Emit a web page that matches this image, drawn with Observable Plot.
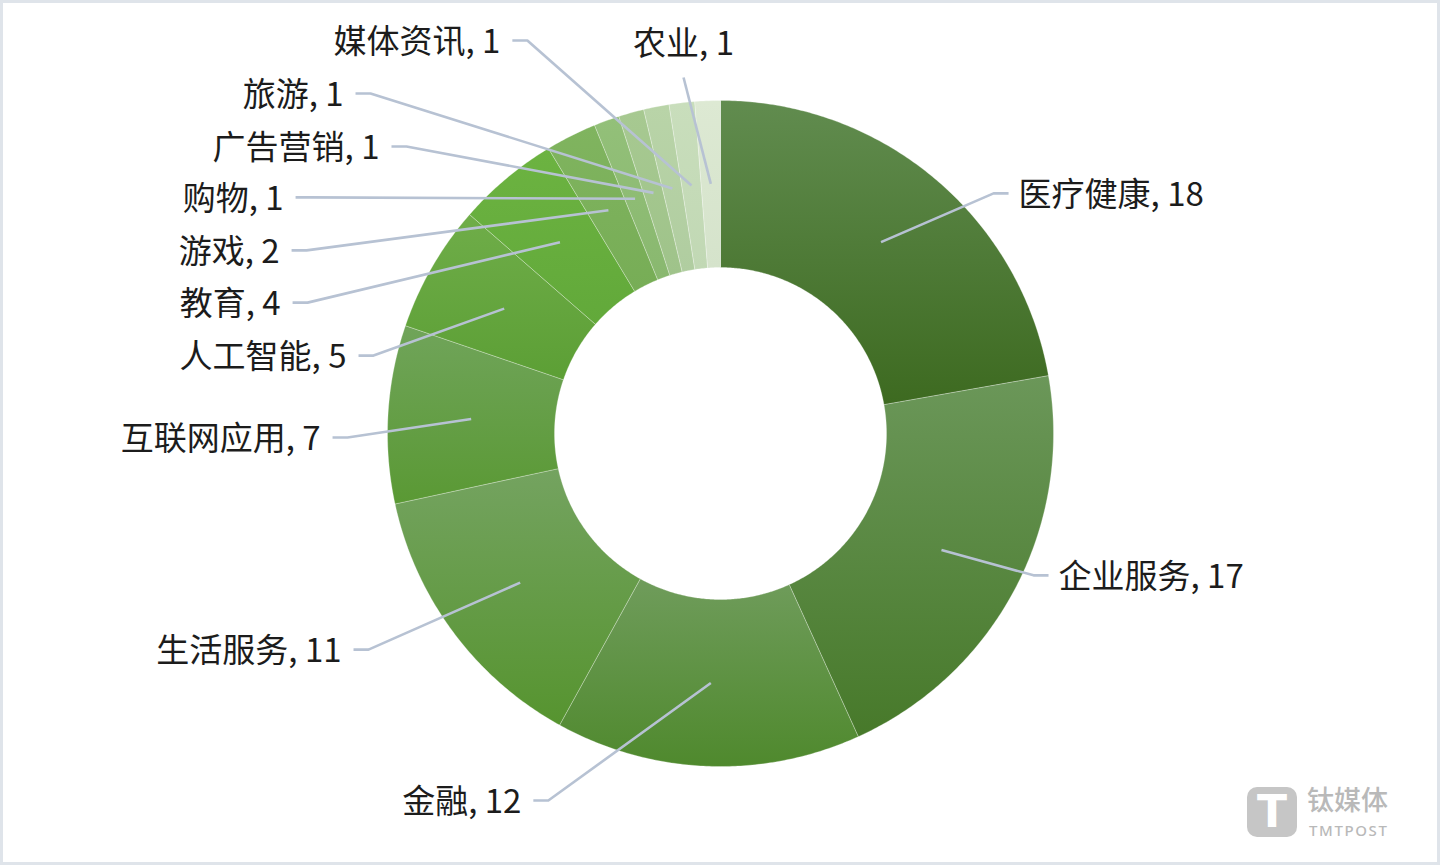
<!DOCTYPE html>
<html>
<head>
<meta charset="utf-8">
<script src="https://cdn.jsdelivr.net/npm/d3@7"></script>
<script src="https://cdn.jsdelivr.net/npm/@observablehq/plot@0.6"></script>
<style>
  html, body { margin: 0; padding: 0; background: #ffffff; }
  #wrap { position: relative; width: 1440px; height: 865px; overflow: hidden; background: #fff; }
  #chart svg { display: block; }
  #frame { position: absolute; left: 0; top: 0; width: 1440px; height: 865px; box-sizing: border-box;
           border: 3px solid #dfe4ea; pointer-events: none; }
  #logo { position: absolute; left: 1247px; top: 787px; width: 50px; height: 50px; border-radius: 10px;
          background: #c6c6c6; color: #fff; font: bold 44px 'DejaVu Sans', sans-serif; line-height: 50px;
          text-align: center; }
  #logo-cn { position: absolute; left: 1307px; top: 785px; font: 500 27px 'Noto Sans CJK SC', sans-serif;
             color: #b9b9b9; line-height: 28px; }
  #logo-en { position: absolute; left: 1309px; top: 824px; font: 500 15px 'Noto Sans', sans-serif;
             color: #b9b9b9; line-height: 13px; letter-spacing: 1.6px; }
</style>
</head>
<body>
<div id="wrap">
  <div id="chart"></div>
  <div id="logo">T</div>
  <div id="logo-cn">钛媒体</div>
  <div id="logo-en">TMTPOST</div>
  <div id="frame"></div>
</div>
<script>
// ---- data ----
const categories = ["医疗健康", "企业服务", "金融", "生活服务", "互联网应用", "人工智能", "教育",
                    "游戏", "购物", "广告营销", "旅游", "媒体资讯", "农业"];
const values = [18, 17, 12, 11, 7, 5, 4, 2, 1, 1, 1, 1, 1];

// ---- styles (gradient top / bottom per slice) ----
const colorTop = ["#618c4f", "#6b9759", "#6f9c5b", "#74a360", "#70a45a", "#6fad49", "#6cb341",
                  "#80b45f", "#93c079", "#a7c991", "#b9d4a8", "#c9debc", "#dde9d3"];
const colorBottom = ["#3d6a20", "#47792a", "#4f892d", "#56942f", "#5a9934", "#5c9f35", "#62a93a",
                     "#77ad56", "#89b86f", "#9fc38a", "#b0cda0", "#c1d8b4", "#d5e3cb"];

// ---- layout: label elbow points (in units of the outer radius, y up) ----
const labelElbow = [[0.820, 0.721], [0.940, -0.426], [-0.517, -1.102], [-1.057, -0.649],
                    [-1.120, -0.012], [-1.042, 0.234], [-1.240, 0.393], [-1.243, 0.550],
                    [-1.231, 0.709], [-0.943, 0.862], [-1.051, 1.021], [-0.580, 1.180],
                    [-0.111, 1.069]];
const labelSide = ["right", "right", "left", "left", "left", "left", "left", "left", "left",
                   "left", "left", "left", "top"];

const W = 1440, H = 865, R = 333, CX = 720, CY = 433;
const innerR = 166 / R;
const tick = 15 / R; // horizontal leader segment length (units)

const pie = d3.pie().sort(null).value(d => d)(values);

function pt(r, a) { return {x: r * Math.sin(a), y: r * Math.cos(a)}; }

const marks = [];
pie.forEach((p, i) => {
  const n = Math.max(4, Math.ceil((p.endAngle - p.startAngle) / (Math.PI / 360)));
  const pts = [];
  for (let k = 0; k <= n; k++) pts.push(pt(1, p.startAngle + (p.endAngle - p.startAngle) * k / n));
  for (let k = n; k >= 0; k--) pts.push(pt(innerR, p.startAngle + (p.endAngle - p.startAngle) * k / n));
  pts.push(pts[0]);
  marks.push(Plot.line(pts, {x: "x", y: "y", fill: `url(#g${i})`, stroke: "#ffffff",
                             strokeOpacity: 0.35, strokeWidth: 0.8, curve: "linear"}));
});

// leader lines
const leaders = [];
const labels = [];
pie.forEach((p, i) => {
  const mid = (p.startAngle + p.endAngle) / 2;
  const s = pt(0.75, mid);
  const [ex, ey] = labelElbow[i];
  const side = labelSide[i];
  const line = [{id: i, x: s.x, y: s.y}, {id: i, x: ex, y: ey}];
  if (side === "right") line.push({id: i, x: ex + tick, y: ey});
  if (side === "left") line.push({id: i, x: ex - tick, y: ey});
  leaders.push(...line);
  const end = line[line.length - 1];
  labels.push({x: end.x, y: end.y, side, text: `${categories[i]}, ${values[i]}`});
});

marks.push(Plot.line(leaders, {x: "x", y: "y", z: "id", stroke: "#b7c2d3", strokeWidth: 2.6,
                               strokeLinejoin: "round", strokeLinecap: "butt"}));

const textStyle = {text: "text", fontSize: 33, fill: "#1c1c1c", fontWeight: 400};
marks.push(Plot.text(labels.filter(d => d.side === "right"),
  {x: "x", y: "y", ...textStyle, textAnchor: "start", dx: 10, dy: 2}));
marks.push(Plot.text(labels.filter(d => d.side === "left"),
  {x: "x", y: "y", ...textStyle, textAnchor: "end", dx: -12, dy: 2}));
marks.push(Plot.text(labels.filter(d => d.side === "top"),
  {x: "x", y: "y", ...textStyle, textAnchor: "middle", dy: -33}));

const chart = Plot.plot({
  width: W, height: H,
  margin: 0,
  x: {domain: [-CX / R, (W - CX) / R], axis: null},
  y: {domain: [-(H - CY) / R, CY / R], axis: null},
  style: {fontFamily: "'Noto Sans CJK SC', 'Noto Sans', sans-serif", background: "#ffffff", overflow: "visible"},
  marks
});

// gradient defs
const ns = "http://www.w3.org/2000/svg";
const defs = document.createElementNS(ns, "defs");
colorTop.forEach((c, i) => {
  const g = document.createElementNS(ns, "linearGradient");
  g.setAttribute("id", `g${i}`);
  g.setAttribute("x1", "0"); g.setAttribute("y1", "0");
  g.setAttribute("x2", "0"); g.setAttribute("y2", "1");
  const s1 = document.createElementNS(ns, "stop");
  s1.setAttribute("offset", "0"); s1.setAttribute("stop-color", c);
  const s2 = document.createElementNS(ns, "stop");
  s2.setAttribute("offset", "1"); s2.setAttribute("stop-color", colorBottom[i]);
  g.appendChild(s1); g.appendChild(s2);
  defs.appendChild(g);
});
chart.insertBefore(defs, chart.firstChild);
document.getElementById("chart").appendChild(chart);
</script>
</body>
</html>
